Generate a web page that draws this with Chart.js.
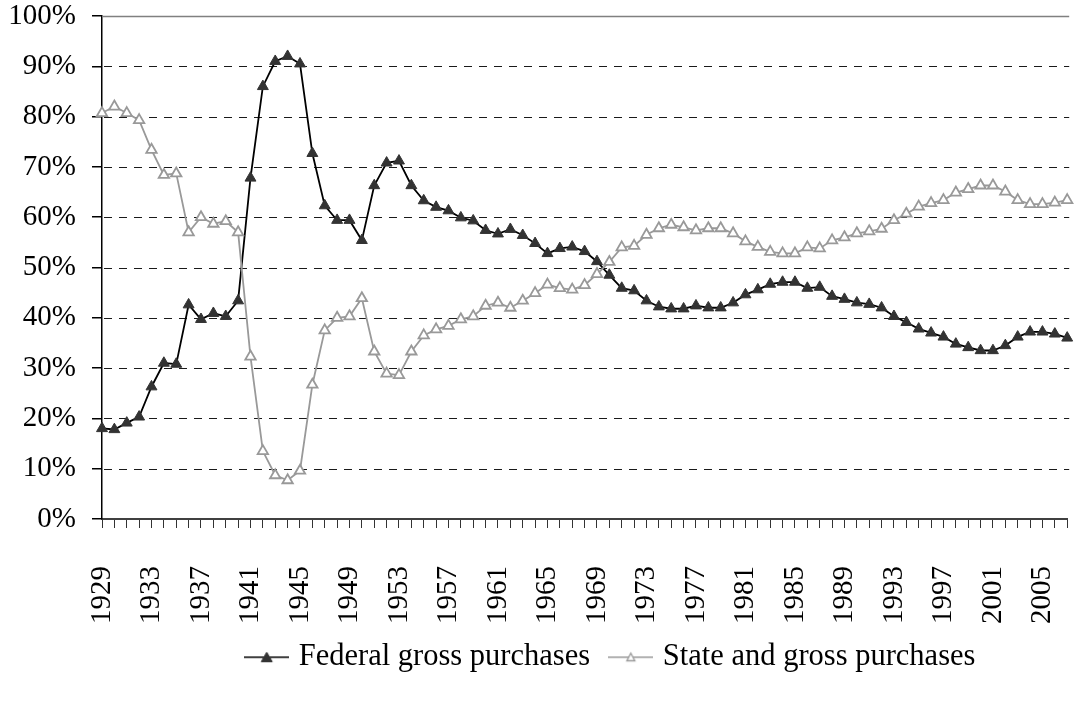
<!DOCTYPE html>
<html>
<head>
<meta charset="utf-8">
<script src="https://cdn.jsdelivr.net/npm/chart.js@4.4.1/dist/chart.umd.min.js"></script>
<style>
  html, body { margin: 0; padding: 0; background: #fff; }
  #c { display: block; }
</style>
</head>
<body>
<canvas id="c" width="1075" height="702"></canvas>
<script>
// ---- data ----
const years = [
  '1929','1930','1931','1932','1933','1934','1935','1936','1937','1938',
  '1939','1940','1941','1942','1943','1944','1945','1946','1947','1948',
  '1949','1950','1951','1952','1953','1954','1955','1956','1957','1958',
  '1959','1960','1961','1962','1963','1964','1965','1966','1967','1968',
  '1969','1970','1971','1972','1973','1974','1975','1976','1977','1978',
  '1979','1980','1981','1982','1983','1984','1985','1986','1987','1988',
  '1989','1990','1991','1992','1993','1994','1995','1996','1997','1998',
  '1999','2000','2001','2002','2003','2004','2005','2006','2007'
];
const tickLabels = ['1929','1933','1937','1941','1945','1949','1953','1957','1961','1965',
  '1969','1973','1977','1981','1985','1989','1993','1997','2001','2005'];
const yTickValues = [0,10,20,30,40,50,60,70,80,90,100];

const federal = [
  18.0, 17.8, 19.1, 20.3, 26.3, 31.0, 30.8, 42.6, 39.7, 40.9,
  40.3, 43.4, 67.8, 86.0, 91.0, 92.0, 90.5, 72.7, 62.3, 59.4,
  59.4, 55.4, 66.3, 70.8, 71.2, 66.3, 63.3, 62.0, 61.3, 59.9,
  59.3, 57.4, 56.7, 57.6, 56.4, 54.8, 52.8, 53.8, 54.1, 53.2,
  51.2, 48.5, 45.9, 45.4, 43.4, 42.2, 41.8, 41.8, 42.4, 42.0,
  42.0, 43.0, 44.6, 45.6, 46.7, 47.1, 47.1, 45.9, 46.1, 44.3,
  43.7, 43.0, 42.7, 42.0, 40.3, 39.1, 37.8, 37.0, 36.2, 34.8,
  34.1, 33.5, 33.5, 34.5, 36.2, 37.2, 37.2, 36.8, 36.0
];
const stateLocal = [
  80.7, 82.0, 80.7, 79.3, 73.4, 68.4, 68.7, 57.0, 60.0, 58.7,
  59.2, 57.0, 32.3, 13.5, 8.7, 7.7, 9.6, 26.7, 37.5, 40.0,
  40.3, 43.9, 33.3, 28.9, 28.6, 33.3, 36.5, 37.7, 38.4, 39.7,
  40.3, 42.4, 43.0, 42.0, 43.4, 44.9, 46.6, 45.9, 45.6, 46.5,
  48.7, 51.1, 54.0, 54.3, 56.5, 57.8, 58.5, 58.0, 57.4, 57.8,
  57.8, 56.8, 55.2, 54.1, 53.1, 52.8, 52.8, 54.0, 53.8, 55.4,
  56.0, 56.8, 57.2, 57.7, 59.4, 60.7, 62.1, 62.8, 63.4, 64.9,
  65.6, 66.3, 66.3, 65.1, 63.4, 62.6, 62.6, 62.9, 63.4
];
const seriesNames = ['Federal gross purchases', 'State and gross purchases'];

// ---- styles ----
const FED_LINE = '#000000';
const FED_MARK = '#333333';
const ST_COLOR = '#999999';
const FONT = 'Liberation Serif, Times New Roman, serif';

Chart.defaults.font.family = FONT;
Chart.defaults.font.size = 29;
Chart.defaults.color = '#000';

function legendMarker(lineColor, fill, stroke, filled) {
  const cv = document.createElement('canvas');
  cv.width = 45; cv.height = 14;
  const g = cv.getContext('2d');
  g.strokeStyle = lineColor; g.lineWidth = 1.5;
  g.beginPath(); g.moveTo(0, 7); g.lineTo(45, 7); g.stroke();
  g.beginPath();
  if (filled) { g.moveTo(22.5, 2); g.lineTo(28, 11.5); g.lineTo(17, 11.5); }
  else { g.moveTo(22.5, 3); g.lineTo(26.5, 10.5); g.lineTo(18.5, 10.5); }
  g.closePath();
  g.fillStyle = fill; g.fill();
  g.strokeStyle = stroke; g.lineWidth = filled ? 1 : 1.3; g.stroke();
  return cv;
}
const fedMarker = legendMarker(FED_LINE, FED_MARK, FED_MARK, true);
const stMarker = legendMarker(ST_COLOR, '#ffffff', ST_COLOR, false);

const gridPlugin = {
  id: 'dashGrid',
  beforeDatasetsDraw(chart) {
    const {ctx, chartArea} = chart;
    const y = chart.scales.y;
    ctx.save();
    y.ticks.forEach(t => {
      if (t.value === 0) return;
      const py = Math.round(y.getPixelForValue(t.value)) + 0.5;
      ctx.beginPath();
      if (t.value === 100) { ctx.setLineDash([]); ctx.strokeStyle = '#808080'; ctx.lineWidth = 1.5; }
      else { ctx.setLineDash([8, 7]); ctx.lineDashOffset = -2; ctx.strokeStyle = '#1a1a1a'; ctx.lineWidth = 1.2; }
      ctx.moveTo(chartArea.left, py);
      ctx.lineTo(chartArea.right + 2, py);
      ctx.stroke();
    });
    ctx.restore();
  }
};

const LEGEND_PAD = 24;
const legendShift = {
  id: 'legendShift',
  afterLayout(chart) {
    const l = chart.legend;
    if (!l || !l.lineWidths) return;
    const cur = (l.left + LEGEND_PAD + l.right - l.lineWidths[0]) / 2;
    const dx = 250 - cur;
    l.left += dx; l.right += dx;
    l.top -= 9; l.bottom -= 9;
  }
};

new Chart(document.getElementById('c'), {
  type: 'line',
  data: {
    labels: years,
    datasets: [
      {
        label: seriesNames[0],
        data: federal,
        borderColor: FED_LINE,
        borderWidth: 1.8,
        pointStyle: 'triangle',
        pointRadius: 6.3,
        pointBackgroundColor: FED_MARK,
        pointBorderColor: FED_MARK,
        pointBorderWidth: 1,
        tension: 0,
        order: 1
      },
      {
        label: seriesNames[1],
        data: stateLocal,
        borderColor: ST_COLOR,
        borderWidth: 1.8,
        pointStyle: 'triangle',
        pointRadius: 6,
        pointBackgroundColor: '#ffffff',
        pointBorderColor: ST_COLOR,
        pointBorderWidth: 1.8,
        tension: 0,
        order: 0
      }
    ]
  },
  options: {
    responsive: false,
    devicePixelRatio: 1,
    animation: false,
    layout: { padding: { top: 16, right: 2, bottom: 10.5, left: 0 } },
    plugins: {
      tooltip: { enabled: false },
      legend: {
        position: 'bottom',
        labels: {
          usePointStyle: true,
          pointStyleWidth: 33.5,
          padding: LEGEND_PAD,
          color: '#000',
          font: { size: 30.5, family: FONT },
          generateLabels() {
            return [
              { text: seriesNames[0], pointStyle: fedMarker, fillStyle: 'rgba(0,0,0,0)', strokeStyle: 'rgba(0,0,0,0)', lineWidth: 0, hidden: false, datasetIndex: 0, fontColor: '#000' },
              { text: seriesNames[1], pointStyle: stMarker, fillStyle: 'rgba(0,0,0,0)', strokeStyle: 'rgba(0,0,0,0)', lineWidth: 0, hidden: false, datasetIndex: 1, fontColor: '#000' }
            ];
          }
        }
      }
    },
    scales: {
      x: {
        type: 'category',
        offset: false,
        ticks: {
          autoSkip: false,
          minRotation: 90,
          maxRotation: 90,
          padding: 38,
          color: '#000',
          font: { size: 29, family: FONT },
          callback(v, i) { return tickLabels.includes(years[i]) ? years[i] : ''; }
        },
        grid: { drawOnChartArea: false, drawTicks: true, tickLength: 9, color: '#333', tickColor: '#333', lineWidth: 1 },
        border: { color: '#404040', width: 2 },
        afterFit(s) { s.height = 108; s.paddingLeft = 0; s.paddingRight = 0; }
      },
      y: {
        min: 0,
        max: 100,
        afterBuildTicks(s) { s.ticks = yTickValues.map(v => ({ value: v })); },
        ticks: {
          padding: 16,
          color: '#000',
          font: { size: 29, family: FONT },
          callback(v) { return v + '%'; }
        },
        grid: { drawOnChartArea: false, drawTicks: true, tickLength: 10, color: '#000', tickColor: '#000', lineWidth: 1.5 },
        border: { color: '#000', width: 1.5 },
        afterFit(s) { s.width = 102; s.paddingTop = 0; s.paddingBottom = 0; }
      }
    }
  },
  plugins: [gridPlugin, legendShift]
});
</script>
</body>
</html>
